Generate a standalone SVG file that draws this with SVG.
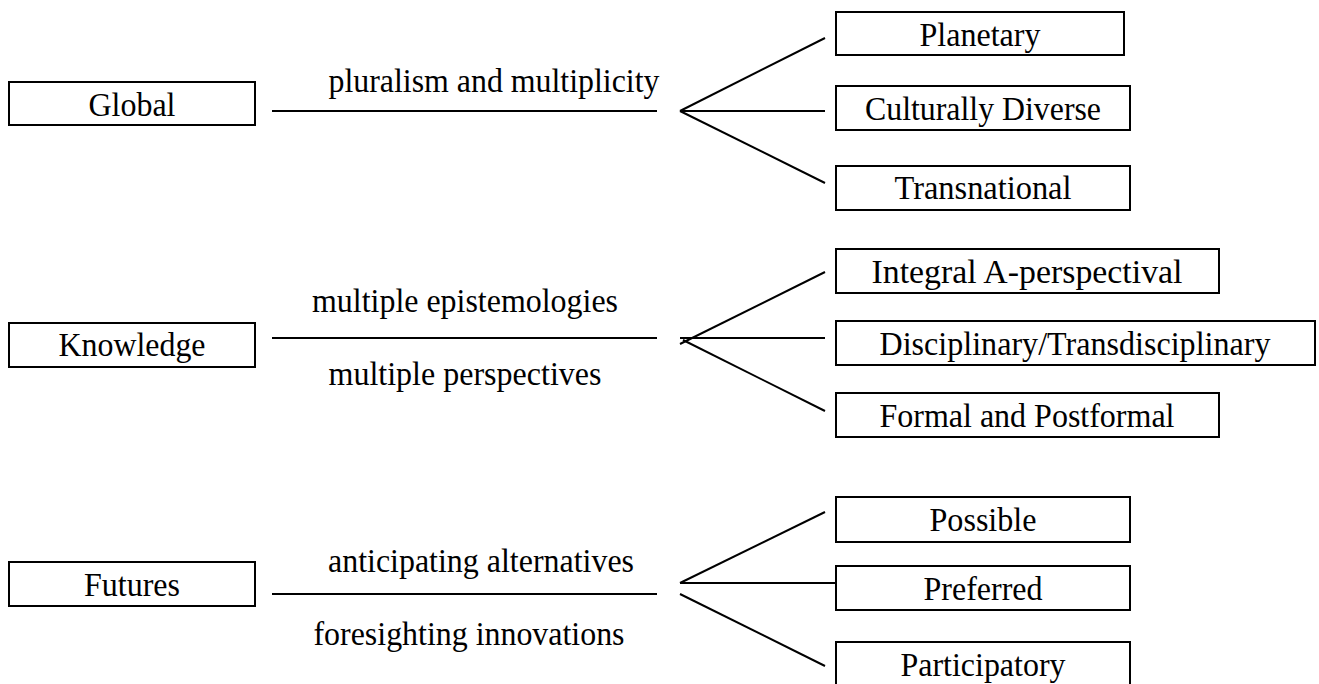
<svg xmlns="http://www.w3.org/2000/svg" width="1319" height="684" viewBox="0 0 1319 684">
<style>
.box{fill:#fff;stroke:#000;stroke-width:2}
.t{font-family:"Liberation Serif","Times New Roman",serif;font-size:34.5px;fill:#000;text-anchor:middle}
.ln{stroke:#000;stroke-width:2;fill:none}
</style>
<rect width="1319" height="684" fill="#fff"/>
<g id="connectors">
<line class="ln" x1="272" y1="111" x2="657" y2="111"/>
<line class="ln" x1="680" y1="111" x2="825" y2="38"/>
<line class="ln" x1="680" y1="111" x2="825" y2="111"/>
<line class="ln" x1="680" y1="111" x2="825" y2="183"/>
<line class="ln" x1="272" y1="338" x2="657" y2="338"/>
<line class="ln" x1="680" y1="344" x2="825" y2="272"/>
<line class="ln" x1="680" y1="338" x2="825" y2="338"/>
<line class="ln" x1="683" y1="340" x2="825" y2="411"/>
<line class="ln" x1="272" y1="594" x2="657" y2="594"/>
<line class="ln" x1="680" y1="583" x2="825" y2="512"/>
<line class="ln" x1="680" y1="583" x2="848" y2="583"/>
<line class="ln" x1="680" y1="594" x2="825" y2="666"/>
</g>
<g id="labels">
<text class="t" x="494" y="92" textLength="331" lengthAdjust="spacingAndGlyphs">pluralism and multiplicity</text>
<text class="t" x="465" y="312" textLength="306" lengthAdjust="spacingAndGlyphs">multiple epistemologies</text>
<text class="t" x="465" y="385" textLength="273" lengthAdjust="spacingAndGlyphs">multiple perspectives</text>
<text class="t" x="481" y="572" textLength="306" lengthAdjust="spacingAndGlyphs">anticipating alternatives</text>
<text class="t" x="469" y="645" textLength="311" lengthAdjust="spacingAndGlyphs">foresighting innovations</text>
</g>
<g id="global"><rect class="box" x="9" y="82" width="246" height="43"/><text class="t" x="132" y="116" textLength="87" lengthAdjust="spacingAndGlyphs">Global</text></g>
<g id="planetary"><rect class="box" x="836" y="12" width="288" height="43"/><text class="t" x="980" y="46" textLength="121" lengthAdjust="spacingAndGlyphs">Planetary</text></g>
<g id="culturally-diverse"><rect class="box" x="836" y="86" width="294" height="44"/><text class="t" x="983" y="120" textLength="236" lengthAdjust="spacingAndGlyphs">Culturally Diverse</text></g>
<g id="transnational"><rect class="box" x="836" y="166" width="294" height="44"/><text class="t" x="983" y="199" textLength="177" lengthAdjust="spacingAndGlyphs">Transnational</text></g>
<g id="knowledge"><rect class="box" x="9" y="323" width="246" height="44"/><text class="t" x="132" y="356" textLength="147" lengthAdjust="spacingAndGlyphs">Knowledge</text></g>
<g id="integral"><rect class="box" x="836" y="249" width="383" height="44"/><text class="t" x="1027" y="283" textLength="311" lengthAdjust="spacingAndGlyphs">Integral A-perspectival</text></g>
<g id="disciplinary"><rect class="box" x="836" y="321" width="479" height="44"/><text class="t" x="1075" y="355" textLength="391" lengthAdjust="spacingAndGlyphs">Disciplinary/Transdisciplinary</text></g>
<g id="formal"><rect class="box" x="836" y="393" width="383" height="44"/><text class="t" x="1027" y="427" textLength="295" lengthAdjust="spacingAndGlyphs">Formal and Postformal</text></g>
<g id="futures"><rect class="box" x="9" y="562" width="246" height="44"/><text class="t" x="132" y="596" textLength="96" lengthAdjust="spacingAndGlyphs">Futures</text></g>
<g id="possible"><rect class="box" x="836" y="497" width="294" height="45"/><text class="t" x="983" y="531" textLength="107" lengthAdjust="spacingAndGlyphs">Possible</text></g>
<g id="preferred"><rect class="box" x="836" y="566" width="294" height="44"/><text class="t" x="983" y="600" textLength="119" lengthAdjust="spacingAndGlyphs">Preferred</text></g>
<g id="participatory"><rect class="box" x="836" y="642" width="294" height="50"/><text class="t" x="983" y="676" textLength="165" lengthAdjust="spacingAndGlyphs">Participatory</text></g>
</svg>
